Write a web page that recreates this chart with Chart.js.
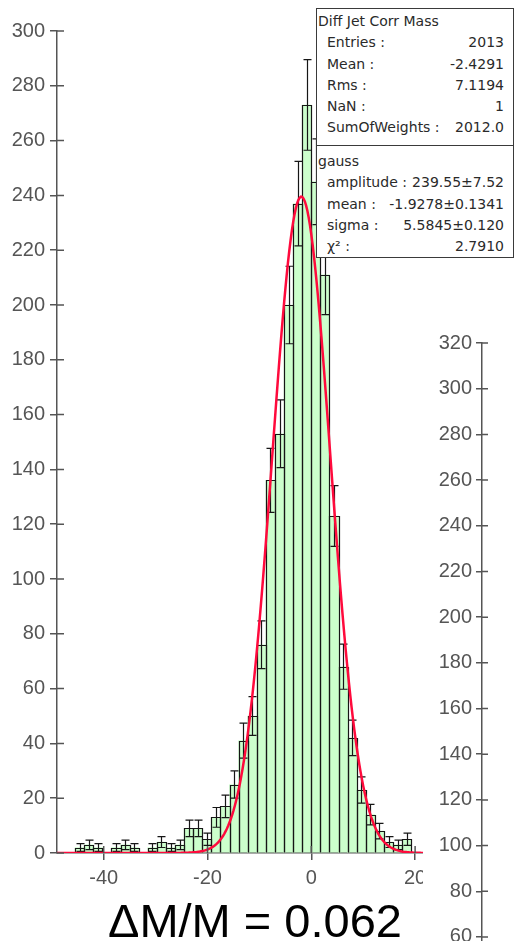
<!DOCTYPE html>
<html>
<head>
<meta charset="utf-8">
<title>Diff Jet Corr Mass</title>
<script src="https://cdn.jsdelivr.net/npm/chart.js@4.4.1/dist/chart.umd.min.js"></script>
<style>
  html, body { margin: 0; padding: 0; background: #fff; overflow: hidden; }
  #page { position: relative; width: 515px; height: 941px; overflow: hidden; background: #fff; }
  #main { position: absolute; left: 0; top: 0; }
  #side { position: absolute; left: 423px; top: 300px; background: #fff; }
  #stats {
    position: absolute; left: 316px; top: 8px; width: 196px; height: 248px;
    border: 1px solid #3a3a3a; background: #fff;
    font-family: "DejaVu Sans", sans-serif; font-size: 14px; color: #2a2a2a;
  }
  #stats .row { position: absolute; left: 0; right: 0; height: 21px; line-height: 21px; white-space: nowrap; }
  #stats .head { position: absolute; left: 1px; }
  #stats .lab { position: absolute; left: 10px; }
  #stats .val { position: absolute; right: 9px; }
  #stats .rule { position: absolute; left: 0; right: 0; top: 136px; height: 1px; background: #3a3a3a; }
  #caption {
    position: absolute; left: 108px; top: 897px; white-space: nowrap;
    font-family: "Liberation Sans", Arial, sans-serif; font-size: 47px; line-height: 47px; color: #000;
  }
</style>
</head>
<body>
<div id="page">
  <canvas id="main" width="515" height="941"></canvas>
  <canvas id="side" width="92" height="800"></canvas>
  <div id="stats"></div>
  <div id="caption"></div>
</div>
<script>
// Histogram binning: 40 bins of width 1.75 starting at -49
const binLow = -49;
const binWidth = 1.75;
const counts = [
  0, 0, 2, 3, 2, 0, 2, 3, 2, 0,
  2, 4, 2, 3, 9, 9, 5, 13, 17, 25,
  41, 50, 76, 136, 153, 200, 237, 273, 245, 211,
  123, 68, 42, 23, 14, 8, 4, 3, 5, 0
];

// Axis tick values
const xTickValues = [-40, -20, 0, 20];
const yTickValues = [0, 20, 40, 60, 80, 100, 120, 140, 160, 180, 200, 220, 240, 260, 280, 300];
const sideTickValues = [0, 20, 40, 60, 80, 100, 120, 140, 160, 180, 200, 220, 240, 260, 280, 300, 320];

// Gaussian fit parameters
const fitAmplitude = 239.55;
const fitMean = -1.9278;
const fitSigma = 5.5845;

// Statistics box text
const statsTitle = 'Diff Jet Corr Mass';
const statsLabels = ['Entries :', 'Mean :', 'Rms :', 'NaN :', 'SumOfWeights :'];
const statsValues = ['2013', '-2.4291', '7.1194', '1', '2012.0'];
const fitTitle = 'gauss';
const fitLabels = ['amplitude :', 'mean :', 'sigma :', 'χ² :'];
const fitValues = ['239.55±7.52', '-1.9278±0.1341', '5.5845±0.120', '2.7910'];
const captionText = 'ΔM/M = 0.062';

// ---- statistics box ----
const stats = document.getElementById('stats');
function addRow(top, left, right, headStyle) {
  const row = document.createElement('div');
  row.className = 'row';
  row.style.top = top + 'px';
  const a = document.createElement('span');
  a.className = headStyle ? 'head' : 'lab';
  a.textContent = left;
  row.appendChild(a);
  if (right !== null) {
    const b = document.createElement('span');
    b.className = 'val';
    b.textContent = right;
    row.appendChild(b);
  }
  stats.appendChild(row);
}
addRow(1.7, statsTitle, null, true);
statsLabels.forEach((l, i) => addRow(23.2 + i * 21.3, l, statsValues[i], false));
const rule = document.createElement('div');
rule.className = 'rule';
stats.appendChild(rule);
addRow(142.4, fitTitle, null, true);
fitLabels.forEach((l, i) => addRow(163.4 + i * 21.3, l, fitValues[i], false));
document.getElementById('caption').textContent = captionText;

// ---- chart helpers ----
const axisGrey = '#555';
const tickFont = { family: 'Liberation Sans', size: 20 };

// Tick marks cross the axis: Chart.js draws the outer half, this draws the inner half.
const innerTicks = {
  id: 'innerTicks',
  afterDraw(chart, args, opts) {
    const ctx = chart.ctx, area = chart.chartArea;
    ctx.save();
    ctx.strokeStyle = axisGrey;
    ctx.lineWidth = 1.5;
    ctx.beginPath();
    Object.values(chart.scales).forEach(s => {
      if (!s.options.display) return;
      s.ticks.forEach(t => {
        const p = s.getPixelForValue(t.value);
        if (s.isHorizontal()) { ctx.moveTo(p, area.bottom); ctx.lineTo(p, area.bottom - opts.len); }
        else { ctx.moveTo(area.left, p); ctx.lineTo(area.left + opts.len, p); }
      });
    });
    ctx.stroke();
    ctx.restore();
  }
};

// Bin outlines and sqrt(N) error bars on top of the filled bars
const histDecor = {
  id: 'histDecor',
  afterDatasetDraw(chart, args) {
    if (args.index !== 1) return;
    const ctx = chart.ctx;
    const yScale = chart.scales.y;
    ctx.save();
    ctx.strokeStyle = '#161616';
    ctx.lineWidth = 1.2;
    args.meta.data.forEach((bar, i) => {
      const n = counts[i];
      if (!n) return;
      const p = bar.getProps(['x', 'y', 'base', 'width'], true);
      const l = Math.round(p.x - p.width / 2) + 0.5;
      const r = Math.round(p.x + p.width / 2) + 0.5;
      const t = Math.round(p.y) + 0.5;
      ctx.beginPath();
      ctx.moveTo(l, p.base); ctx.lineTo(l, t); ctx.lineTo(r, t); ctx.lineTo(r, p.base);
      ctx.stroke();
      const e = Math.sqrt(n);
      const yHi = yScale.getPixelForValue(n + e);
      const yLo = yScale.getPixelForValue(n - e);
      const cx = Math.round(p.x) + 0.5;
      ctx.beginPath();
      ctx.moveTo(cx, yLo); ctx.lineTo(cx, yHi);
      ctx.moveTo(cx - 4, yHi); ctx.lineTo(cx + 4, yHi);
      ctx.moveTo(cx - 4, yLo); ctx.lineTo(cx + 4, yLo);
      ctx.stroke();
    });
    ctx.restore();
  }
};

// ---- main histogram ----
const barPoints = counts.map((n, i) => ({ x: binLow + binWidth * (i + 0.5), y: n }));
const curvePoints = [];
for (let x = binLow; x <= 22.0001; x += 0.25) {
  const z = (x - fitMean) / fitSigma;
  curvePoints.push({ x: x, y: fitAmplitude * Math.exp(-0.5 * z * z) });
}

new Chart(document.getElementById('main'), {
  type: 'bar',
  data: {
    datasets: [
      {
        type: 'line',
        data: curvePoints,
        borderColor: '#ff0a3c',
        borderWidth: 2.5,
        pointRadius: 0,
        tension: 0,
        fill: false,
        order: 0
      },
      {
        type: 'bar',
        data: barPoints,
        backgroundColor: '#ccffcc',
        borderWidth: 0,
        barPercentage: 1,
        categoryPercentage: 1,
        order: 1
      }
    ]
  },
  options: {
    animation: false,
    responsive: false,
    devicePixelRatio: 1,
    layout: { padding: { top: 31, right: 89.5, left: 0, bottom: 0 } },
    plugins: { legend: { display: false }, tooltip: { enabled: false }, innerTicks: { len: 7 } },
    scales: {
      x: {
        type: 'linear', min: binLow, max: 22, offset: false,
        afterBuildTicks: s => { s.ticks = xTickValues.map(v => ({ value: v })); },
        afterFit: s => { s.height = 88; },
        grid: { offset: false, drawOnChartArea: false, drawTicks: true, tickLength: 7, color: axisGrey, lineWidth: 1.5 },
        border: { display: true, color: axisGrey, width: 1.5 },
        ticks: { font: tickFont, color: axisGrey, padding: 6, maxRotation: 0, autoSkip: false }
      },
      y: {
        type: 'linear', min: 0, max: 300,
        afterBuildTicks: s => { s.ticks = yTickValues.map(v => ({ value: v })); },
        afterFit: s => { s.width = 57; },
        grid: { drawOnChartArea: false, drawTicks: true, tickLength: 7, color: axisGrey, lineWidth: 1.5 },
        border: { display: true, color: axisGrey, width: 1.5 },
        ticks: { font: tickFont, color: axisGrey, padding: 5, autoSkip: false }
      }
    }
  },
  plugins: [histDecor, innerTicks]
});

// ---- neighbouring panel: its vertical axis ----
new Chart(document.getElementById('side'), {
  type: 'line',
  data: { datasets: [] },
  options: {
    animation: false,
    responsive: false,
    devicePixelRatio: 1,
    layout: { padding: { top: 43, bottom: 26, right: 5, left: 0 } },
    plugins: { legend: { display: false }, tooltip: { enabled: false }, innerTicks: { len: 6 } },
    scales: {
      x: { type: 'linear', display: false, min: 0, max: 1 },
      y: {
        type: 'linear', min: 0, max: 320,
        afterBuildTicks: s => { s.ticks = sideTickValues.map(v => ({ value: v })); },
        afterFit: s => { s.width = 59; },
        grid: { drawOnChartArea: false, drawTicks: true, tickLength: 6, color: axisGrey, lineWidth: 1.5 },
        border: { display: true, color: axisGrey, width: 1.5 },
        ticks: { font: tickFont, color: axisGrey, padding: 4, autoSkip: false }
      }
    }
  },
  plugins: [innerTicks]
});
</script>
</body>
</html>
